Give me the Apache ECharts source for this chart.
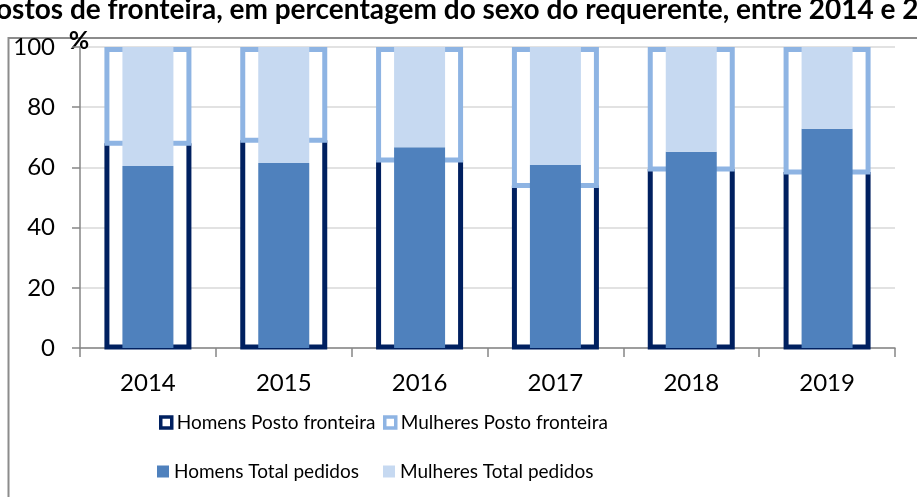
<!DOCTYPE html>
<html>
<head>
<meta charset="utf-8">
<script src="https://cdn.jsdelivr.net/npm/echarts@6/dist/echarts.min.js"></script>
<style>
  html, body { margin: 0; padding: 0; background: #fff; }
  #main { width: 917px; height: 497px; }
</style>
</head>
<body>
<div id="main"></div>
<script>
var categories = ['2014', '2015', '2016', '2017', '2018', '2019'];
var homensPosto = [68, 69, 62.5, 54, 59.5, 58.5];
var mulheresPosto = [32, 31, 37.5, 46, 40.5, 41.5];
var homensTotal = [60.5, 61.5, 66.7, 60.8, 65.2, 72.8];
var mulheresTotal = [39.5, 38.5, 33.3, 39.2, 34.8, 27.2];
var yTicks = [0, 20, 40, 60, 80, 100];

var fontFamily = 'Lato';
var outerHalf = 41;   // meia largura (centro do contorno) das barras "Posto fronteira"
var border = 5;

var myChart = echarts.init(document.getElementById('main'));

// legenda: uma por item, para os posicionar como no original
function legendItem(name, left, top, w, h, style) {
    return {
        data: [name],
        left: left,
        top: top,
        padding: 0,
        itemWidth: w,
        itemHeight: h,
        icon: 'rect',
        itemStyle: style,
        textStyle: { fontFamily: fontFamily, fontSize: 19, color: '#000' },
        selectedMode: false
    };
}

// barras ocas empilhadas: homens em baixo (sem traço no topo), mulheres por cima
function renderHomens(params, api) {
    var i = api.value(0);
    var base = api.coord([i, 0]);
    var top = api.coord([i, api.value(1)]);
    var cx = base[0], y0 = base[1] - 1;
    return {
        type: 'group',
        children: [{
            type: 'rect',
            shape: { x: cx - outerHalf, y: top[1], width: outerHalf * 2, height: y0 - top[1] },
            style: { fill: '#fff' }
        }, {
            type: 'polyline',
            shape: { points: [[cx - outerHalf, top[1]], [cx - outerHalf, y0], [cx + outerHalf, y0], [cx + outerHalf, top[1]]] },
            style: { stroke: '#002060', lineWidth: border, fill: null, lineJoin: 'miter' }
        }]
    };
}

function renderMulheres(params, api) {
    var i = api.value(0);
    var h = homensPosto[i];
    var bottom = api.coord([i, h]);
    var top = api.coord([i, h + api.value(1)]);
    var cx = bottom[0], yt = top[1] + border / 2;
    return {
        type: 'rect',
        shape: { x: cx - outerHalf, y: yt, width: outerHalf * 2, height: bottom[1] - yt },
        style: { fill: '#fff', stroke: '#8eb4e3', lineWidth: border }
    };
}

myChart.setOption({
    animation: false,
    title: {
        text: 'ostos de fronteira, em percentagem do sexo do requerente, entre 2014 e 2019',
        left: -9,
        top: -9,
        textStyle: { fontFamily: fontFamily, fontSize: 28, fontWeight: 'bold', color: '#000' }
    },
    graphic: [{
        type: 'rect',
        shape: { x: 8.5, y: 38, width: 1000, height: 600 },
        style: { fill: 'none', stroke: '#8c8c8c', lineWidth: 2 },
        silent: true
    }],
    legend: [
        legendItem('Homens Posto fronteira', 159, 413, 11, 11, { color: '#fff', borderColor: '#002060', borderWidth: 3.5 }),
        legendItem('Mulheres Posto fronteira', 383, 413, 11, 11, { color: '#fff', borderColor: '#8eb4e3', borderWidth: 3.5 }),
        legendItem('Homens Total pedidos', 157, 462, 12, 12, { color: '#4f81bd', borderWidth: 0 }),
        legendItem('Mulheres Total pedidos', 383, 462, 12, 12, { color: '#c6d9f1', borderWidth: 0 })
    ],
    grid: { left: 80, right: 22, top: 47, bottom: 149 },
    xAxis: {
        type: 'category',
        data: categories,
        axisLine: { lineStyle: { color: '#868686', width: 1.5 } },
        axisTick: { show: true, length: 9, lineStyle: { color: '#868686', width: 1.5 } },
        axisLabel: { margin: 23, fontFamily: fontFamily, fontSize: 24, color: '#000' }
    },
    yAxis: {
        type: 'value',
        min: 0,
        max: 100,
        interval: 20,
        name: '%',
        nameLocation: 'end',
        nameGap: -6,
        nameTextStyle: { fontFamily: fontFamily, fontSize: 25, fontWeight: 'bold', color: '#000', align: 'center', padding: [0, 2, 0, 0] },
        axisLine: { show: true, lineStyle: { color: '#868686', width: 1.5 } },
        axisTick: { show: true, length: 8, lineStyle: { color: '#868686', width: 1.5 } },
        axisLabel: {
            margin: 25, fontFamily: fontFamily, fontSize: 24, color: '#000',
            formatter: function (v) { return yTicks.indexOf(v) >= 0 ? String(v) : ''; }
        },
        splitLine: { lineStyle: { color: '#d9d9d9', width: 1.5 } }
    },
    series: [{
        name: 'Homens Posto fronteira',
        type: 'custom',
        renderItem: renderHomens,
        itemStyle: { color: '#fff', borderColor: '#002060', borderWidth: 3.5 },
        encode: { x: 0, y: 1 },
        data: homensPosto.map(function (v, i) { return [i, v]; })
    }, {
        name: 'Mulheres Posto fronteira',
        type: 'custom',
        renderItem: renderMulheres,
        itemStyle: { color: '#fff', borderColor: '#8eb4e3', borderWidth: 3.5 },
        encode: { x: 0, y: 1 },
        data: mulheresPosto.map(function (v, i) { return [i, v]; })
    }, {
        name: 'Homens Total pedidos',
        type: 'bar',
        stack: 'total',
        barWidth: 51,
        itemStyle: { color: '#4f81bd' },
        data: homensTotal
    }, {
        name: 'Mulheres Total pedidos',
        type: 'bar',
        stack: 'total',
        barWidth: 51,
        itemStyle: { color: '#c6d9f1' },
        data: mulheresTotal
    }]
});
</script>
</body>
</html>
